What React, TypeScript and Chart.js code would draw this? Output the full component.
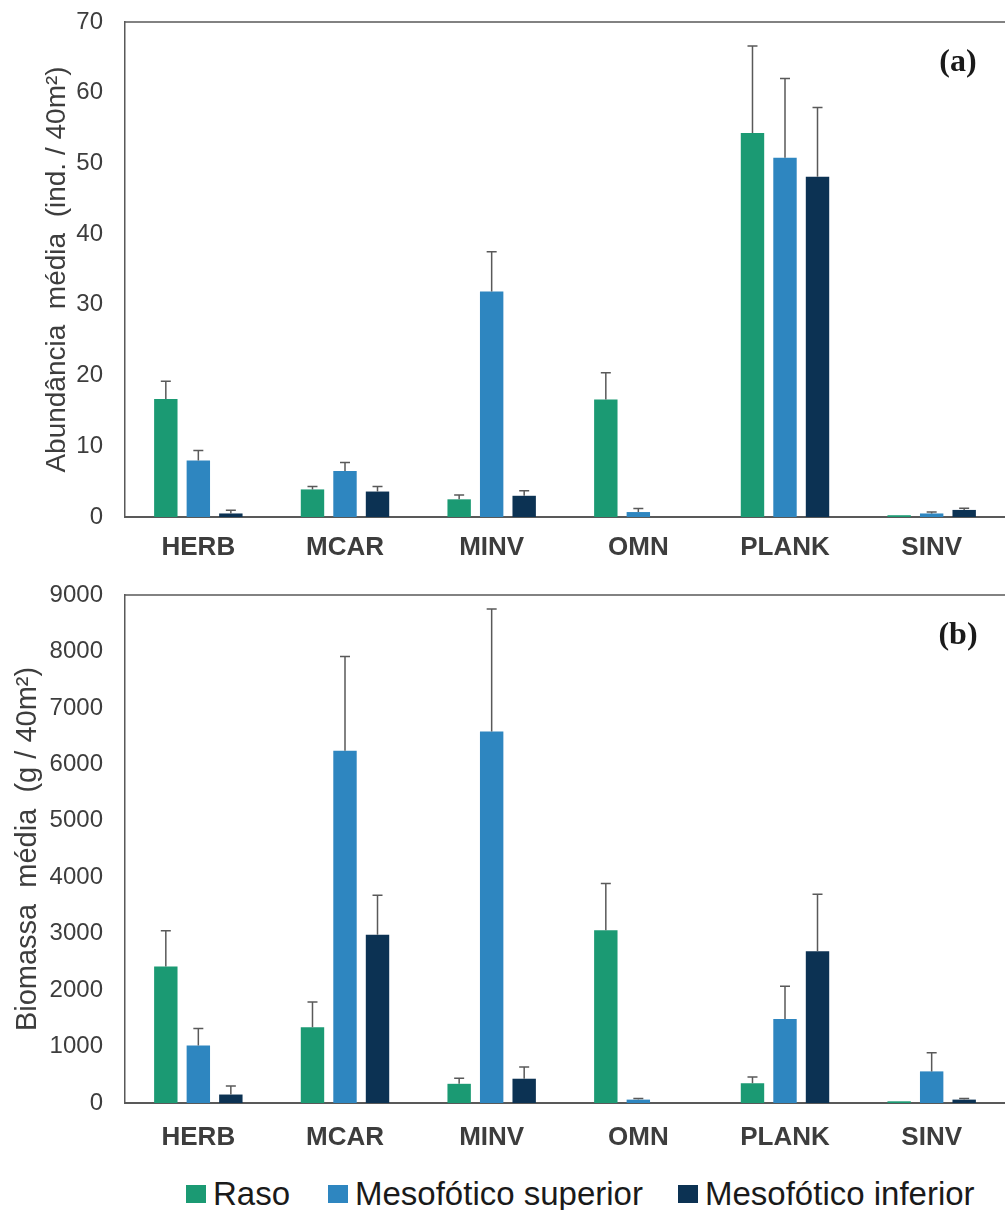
import React, { useEffect, useRef } from 'react';
import { Chart, registerables } from 'chart.js';

Chart.register(...registerables);

// Trophic groups on the x axis
const categories = ['HERB', 'MCAR', 'MINV', 'OMN', 'PLANK', 'SINV'];
const seriesLabels = ['Raso', 'Mesofótico superior', 'Mesofótico inferior'];
const seriesColors = ['#1b9a73', '#2e86c0', '#0c3253'];

// (a) mean abundance (ind. / 40m²) and standard error
const abundanceRaso = [16.7, 3.9, 2.5, 16.6, 54.3, 0.25];
const abundanceRasoErr = [2.5, 0.4, 0.6, 3.8, 12.3, 0];
const abundanceSuperior = [8.0, 6.5, 31.9, 0.7, 50.8, 0.5];
const abundanceSuperiorErr = [1.4, 1.2, 5.6, 0.5, 11.2, 0.2];
const abundanceInferior = [0.5, 3.6, 3.0, 0, 48.1, 1.0];
const abundanceInferiorErr = [0.45, 0.7, 0.7, 0, 9.8, 0.25];

// (b) mean biomass (g / 40m²) and standard error
const biomassRaso = [2420, 1340, 340, 3060, 350, 30];
const biomassRasoErr = [630, 450, 100, 830, 110, 0];
const biomassSuperior = [1020, 6240, 6580, 60, 1490, 560];
const biomassSuperiorErr = [300, 1670, 2170, 20, 580, 330];
const biomassInferior = [150, 2980, 430, 0, 2690, 60];
const biomassInferiorErr = [150, 700, 210, 0, 1010, 20];

const AXIS_GREY = '#595959';
const TEXT_GREY = '#3d3d3d';
const SANS = '"Liberation Sans", Arial, sans-serif';

// Upper-only error bars drawn on top of each bar
const errorBarPlugin = {
  id: 'errorBars',
  afterDatasetsDraw(chart: any) {
    const ctx = chart.ctx;
    const yScale = chart.scales.y;
    chart.data.datasets.forEach((ds: any, i: number) => {
      const meta = chart.getDatasetMeta(i);
      const errs: number[] = ds.errors || [];
      meta.data.forEach((bar: any, j: number) => {
        const e = errs[j];
        if (!e) return;
        const top = yScale.getPixelForValue(ds.data[j] + e);
        ctx.save();
        ctx.strokeStyle = AXIS_GREY;
        ctx.lineWidth = 1.5;
        ctx.beginPath();
        ctx.moveTo(bar.x, bar.y);
        ctx.lineTo(bar.x, top);
        ctx.moveTo(bar.x - 5, top);
        ctx.lineTo(bar.x + 5, top);
        ctx.stroke();
        ctx.restore();
      });
    });
  },
};

// Top frame line and the panel tag, e.g. "(a)"
const framePlugin = {
  id: 'panelFrame',
  afterDraw(chart: any, _args: any, opts: any) {
    const { ctx, chartArea } = chart;
    ctx.save();
    ctx.strokeStyle = AXIS_GREY;
    ctx.lineWidth = 1.5;
    ctx.beginPath();
    ctx.moveTo(chartArea.left, chartArea.top);
    ctx.lineTo(chartArea.right, chartArea.top);
    ctx.stroke();
    if (opts && opts.tag) {
      ctx.fillStyle = '#1a1a1a';
      ctx.font = 'bold 32px "Liberation Serif", "DejaVu Serif", serif';
      ctx.textAlign = 'center';
      ctx.textBaseline = 'middle';
      ctx.fillText(opts.tag, chartArea.right - 47, chartArea.top + 41);
    }
    ctx.restore();
  },
};

type PanelSpec = {
  raso: number[];
  rasoErr: number[];
  sup: number[];
  supErr: number[];
  inf: number[];
  infErr: number[];
  yMax: number;
  step: number;
  title: string;
  titleSize: number;
  titlePad: number;
  topPad: number;
  xHeight: number;
  xPad: number;
  tag: string;
};

function buildConfig(p: PanelSpec): any {
  const values = [p.raso, p.sup, p.inf];
  const errors = [p.rasoErr, p.supErr, p.infErr];
  return {
    type: 'bar',
    data: {
      labels: categories,
      datasets: seriesLabels.map((label, i) => ({
        label,
        data: values[i],
        errors: errors[i],
        backgroundColor: seriesColors[i],
        borderWidth: 0,
        categoryPercentage: 0.665,
        barPercentage: 0.72,
      })),
    },
    options: {
      responsive: false,
      animation: false,
      devicePixelRatio: 1,
      layout: { padding: { top: p.topPad, left: 0, right: 0, bottom: 0 } },
      plugins: {
        legend: { display: false },
        tooltip: { enabled: false },
        panelFrame: { tag: p.tag },
      },
      scales: {
        x: {
          grid: { display: false, drawTicks: false },
          border: { display: true, color: AXIS_GREY, width: 2 },
          ticks: {
            color: TEXT_GREY,
            padding: p.xPad,
            font: { family: SANS, size: 26, weight: 'bold' },
          },
          afterFit: (scale: any) => {
            scale.height = p.xHeight;
          },
        },
        y: {
          min: 0,
          max: p.yMax,
          grid: { display: false, drawTicks: false },
          border: { display: true, color: AXIS_GREY, width: 1.5 },
          ticks: {
            stepSize: p.step,
            color: TEXT_GREY,
            padding: 22,
            font: { family: SANS, size: 24 },
            callback: (v: any) => String(v),
          },
          title: {
            display: true,
            text: p.title,
            color: TEXT_GREY,
            padding: { top: p.titlePad, bottom: 0 },
            font: { family: SANS, size: p.titleSize },
          },
          afterFit: (scale: any) => {
            scale.width = 125;
            scale.paddingTop = 0;
            scale.paddingBottom = 0;
          },
        },
      },
    },
    plugins: [errorBarPlugin, framePlugin],
  };
}

const abundancePanel: PanelSpec = {
  raso: abundanceRaso,
  rasoErr: abundanceRasoErr,
  sup: abundanceSuperior,
  supErr: abundanceSuperiorErr,
  inf: abundanceInferior,
  infErr: abundanceInferiorErr,
  yMax: 70,
  step: 10,
  title: 'Abundância  média  (ind. / 40m²)',
  titleSize: 28,
  titlePad: 40,
  topPad: 22,
  xHeight: 53,
  xPad: 15,
  tag: '(a)',
};

const biomassPanel: PanelSpec = {
  raso: biomassRaso,
  rasoErr: biomassRasoErr,
  sup: biomassSuperior,
  supErr: biomassSuperiorErr,
  inf: biomassInferior,
  infErr: biomassInferiorErr,
  yMax: 9000,
  step: 1000,
  title: 'Biomassa  média  (g / 40m²)',
  titleSize: 29,
  titlePad: 11,
  topPad: 25,
  xHeight: 57,
  xPad: 19,
  tag: '(b)',
};

function Panel({ spec, top, height }: { spec: PanelSpec; top: number; height: number }) {
  const ref = useRef<HTMLCanvasElement | null>(null);
  useEffect(() => {
    if (!ref.current) return;
    const chart = new Chart(ref.current, buildConfig(spec));
    return () => chart.destroy();
  }, [spec]);
  return (
    <canvas
      ref={ref}
      width={1005}
      height={height}
      style={{ position: 'absolute', left: 0, top, width: 1005, height }}
    />
  );
}

const legendLefts = [186, 328, 678];

export default function App() {
  useEffect(() => {
    document.body.style.margin = '0';
    document.body.style.overflow = 'hidden';
    document.body.style.background = '#ffffff';
  }, []);
  return (
    <div style={{ position: 'relative', width: 1005, height: 1210, background: '#ffffff', overflow: 'hidden' }}>
      <Panel spec={abundancePanel} top={0} height={570} />
      <Panel spec={biomassPanel} top={570} height={590} />
      {seriesLabels.map((label, i) => (
        <div
          key={label}
          style={{
            position: 'absolute',
            left: legendLefts[i],
            top: 1175,
            height: 38,
            display: 'flex',
            alignItems: 'center',
            whiteSpace: 'nowrap',
          }}
        >
          <span style={{ display: 'inline-block', width: 20, height: 18, background: seriesColors[i], marginRight: 7 }} />
          <span style={{ fontFamily: SANS, fontSize: 33, color: '#1a1a1a', lineHeight: '38px' }}>{label}</span>
        </div>
      ))}
    </div>
  );
}
